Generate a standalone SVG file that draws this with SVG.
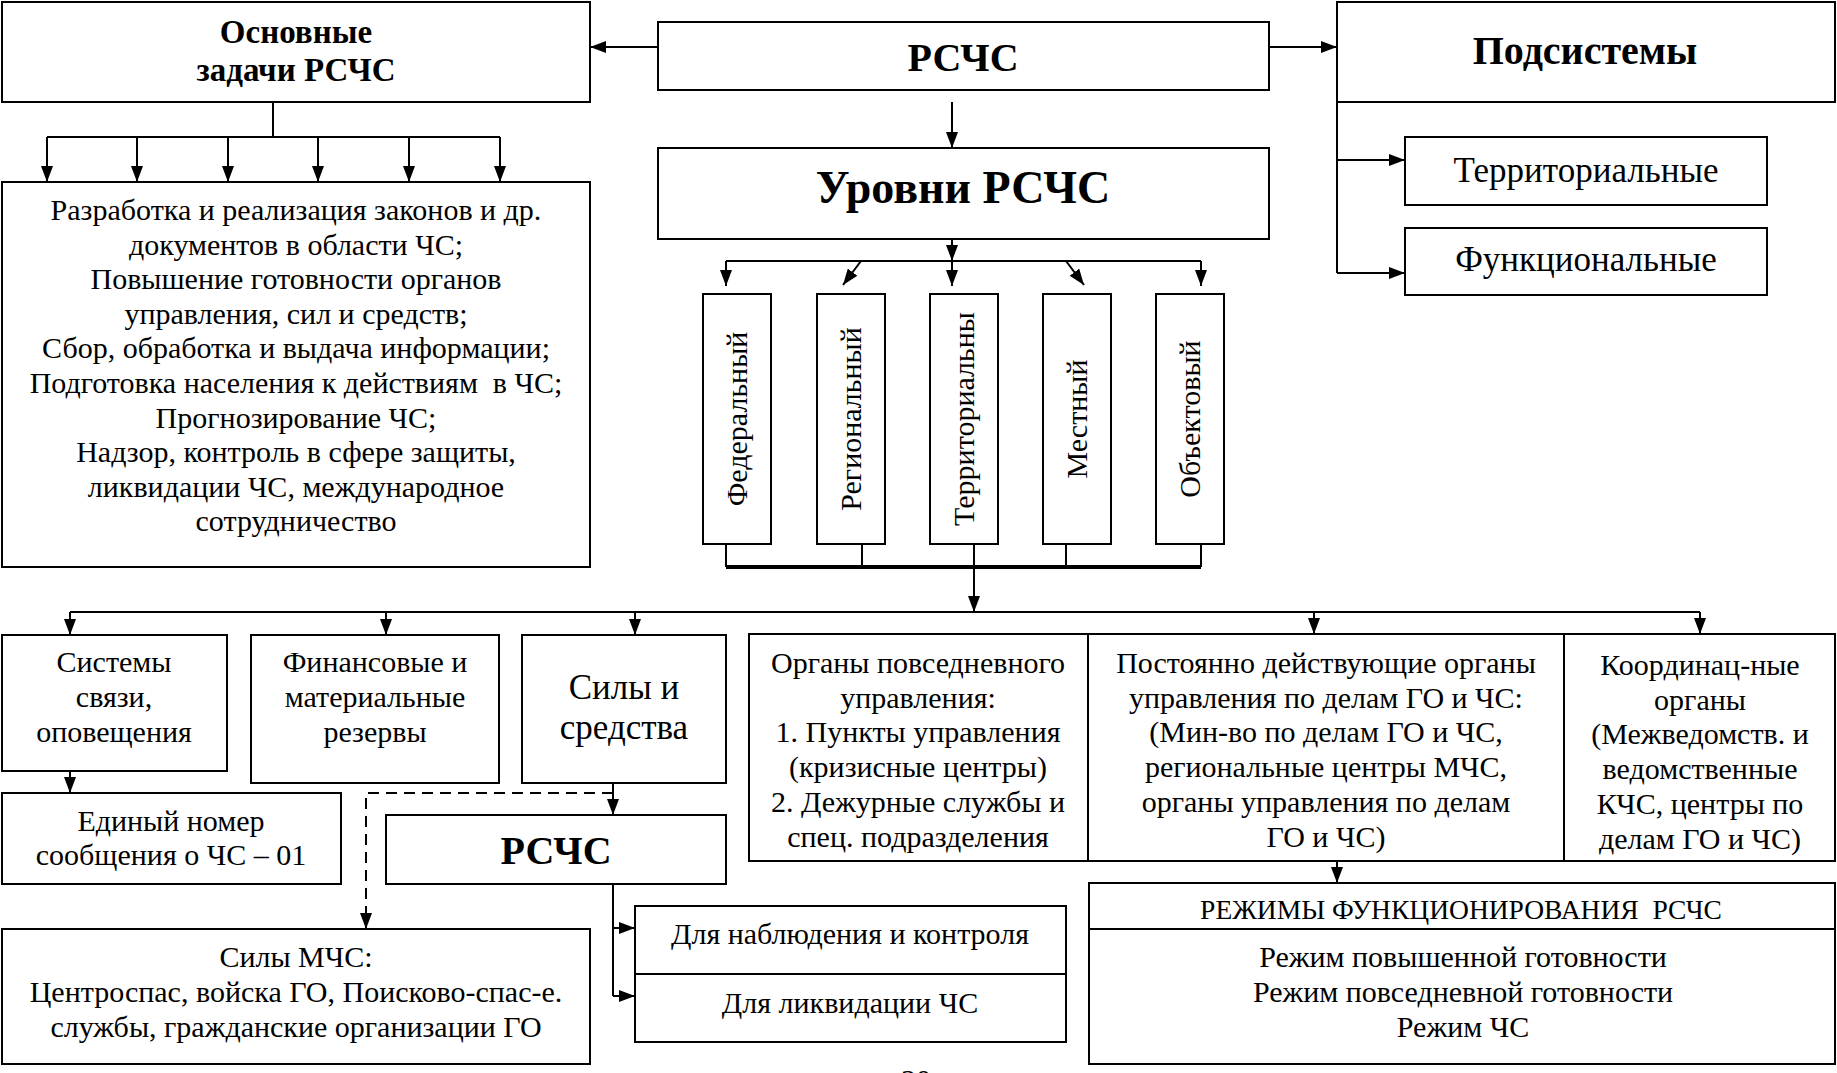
<svg xmlns="http://www.w3.org/2000/svg" width="1837" height="1073" viewBox="0 0 1837 1073">
<style>
.box{fill:#fff;stroke:#000;stroke-width:2}
.ln{fill:none;stroke:#000;stroke-width:2}
.ar{fill:none;stroke:#000;stroke-width:2;marker-end:url(#ah)}
.t{font-family:"Liberation Serif","Times New Roman",serif;font-size:30px;text-anchor:middle;fill:#000}
.b{font-weight:bold}
.s33{font-size:33px}
.s35{font-size:35px}
.s40{font-size:40px}
.s46{font-size:46px}
.s27{font-size:27.5px}
</style>
<defs>
<marker id="ah" viewBox="0 0 16 12" refX="16" refY="6" markerWidth="16" markerHeight="12" markerUnits="userSpaceOnUse" orient="auto">
<path d="M0,0 L16,6 L0,12 Z" fill="#000"/>
</marker>
</defs>
<rect width="1837" height="1073" fill="#fff"/>

<g id="connectors">
<path class="ar" d="M658,47 H590"/>
<path class="ar" d="M1269,47 H1337"/>
<path class="ar" d="M952,102 V148"/>
<path class="ln" d="M273,102 V137 M47,137 H500"/>
<path class="ar" d="M47,137 V182"/>
<path class="ar" d="M137,137 V182"/>
<path class="ar" d="M228,137 V182"/>
<path class="ar" d="M318,137 V182"/>
<path class="ar" d="M409,137 V182"/>
<path class="ar" d="M500,137 V182"/>
<path class="ln" d="M1337,102 V273"/>
<path class="ar" d="M1337,160 H1405"/>
<path class="ar" d="M1337,273 H1405"/>
<path class="ar" d="M952,239 V261"/>
<path class="ln" d="M726,261 H1201"/>
<path class="ar" d="M726,261 V286"/>
<path class="ar" d="M861,261 L843,285"/>
<path class="ar" d="M952,261 V286"/>
<path class="ar" d="M1066,261 L1084,285"/>
<path class="ar" d="M1201,261 V286"/>
<path class="ln" d="M726,544 V567 M862,544 V567 M1066,544 V567 M1201,544 V567"/>
<path d="M726,567 H1201" fill="none" stroke="#000" stroke-width="4"/>
<path class="ar" d="M974,544 V612"/>
<path class="ln" d="M70,612 H1700"/>
<path class="ar" d="M70,612 V635"/>
<path class="ar" d="M386,612 V635"/>
<path class="ar" d="M635,612 V635"/>
<path class="ar" d="M1314,612 V634"/>
<path class="ar" d="M1700,612 V634"/>
<path class="ar" d="M70,771 V793"/>
<path class="ar" d="M613,783 V815"/>
<path d="M613,793 H366 V929" fill="none" stroke="#000" stroke-width="2" stroke-dasharray="11,7" marker-end="url(#ah)"/>
<path class="ln" d="M613,884 V996"/>
<path class="ar" d="M613,928 H635"/>
<path class="ar" d="M613,996 H635"/>
<path class="ar" d="M1337,861 V883"/>
</g>

<g id="tasks-title">
<rect class="box" x="2" y="2" width="588" height="100"/>
<text class="t b s33" x="296" y="43">Основные</text>
<text class="t b s33" x="296" y="81">задачи РСЧС</text>
</g>
<g id="rschs-top">
<rect class="box" x="658" y="22" width="611" height="68"/>
<text class="t b s40" x="963" y="71">РСЧС</text>
</g>
<g id="subsystems">
<rect class="box" x="1337" y="2" width="498" height="100"/>
<text class="t b s40" x="1585" y="64">Подсистемы</text>
</g>
<g id="territorial">
<rect class="box" x="1405" y="137" width="362" height="68"/>
<text class="t s35" x="1586" y="182">Территориальные</text>
</g>
<g id="functional">
<rect class="box" x="1405" y="228" width="362" height="67"/>
<text class="t s35" x="1586" y="271">Функциональные</text>
</g>
<g id="tasks">
<rect class="box" x="2" y="182" width="588" height="385"/>
<text class="t" x="296" y="220">Разработка и реализация законов и др.</text>
<text class="t" x="296" y="254.6">документов в области ЧС;</text>
<text class="t" x="296" y="289.2">Повышение готовности органов</text>
<text class="t" x="296" y="323.8">управления, сил и средств;</text>
<text class="t" x="296" y="358.4">Сбор, обработка и выдача информации;</text>
<text class="t" x="296" y="393">Подготовка населения к действиям&#160; в ЧС;</text>
<text class="t" x="296" y="427.6">Прогнозирование ЧС;</text>
<text class="t" x="296" y="462.2">Надзор, контроль в сфере защиты,</text>
<text class="t" x="296" y="496.8">ликвидации ЧС, международное</text>
<text class="t" x="296" y="531.4">сотрудничество</text>
</g>
<g id="levels">
<rect class="box" x="658" y="148" width="611" height="91"/>
<text class="t b s46" x="963" y="203">Уровни РСЧС</text>
</g>
<g id="lvl-federal">
<rect class="box" x="703" y="294" width="68" height="250"/>
<text class="t" transform="translate(747,419) rotate(-90)">Федеральный</text>
</g>
<g id="lvl-regional">
<rect class="box" x="817" y="294" width="68" height="250"/>
<text class="t" transform="translate(861,419) rotate(-90)">Региональный</text>
</g>
<g id="lvl-territorial">
<rect class="box" x="930" y="294" width="68" height="250"/>
<text class="t" transform="translate(974,419) rotate(-90)">Территориальны</text>
</g>
<g id="lvl-local">
<rect class="box" x="1043" y="294" width="68" height="250"/>
<text class="t" transform="translate(1087,419) rotate(-90)">Местный</text>
</g>
<g id="lvl-object">
<rect class="box" x="1156" y="294" width="68" height="250"/>
<text class="t" transform="translate(1200,419) rotate(-90)">Объектовый</text>
</g>
<g id="comm">
<rect class="box" x="2" y="635" width="225" height="136"/>
<text class="t" x="114" y="672">Системы</text>
<text class="t" x="114" y="707">связи,</text>
<text class="t" x="114" y="742">оповещения</text>
</g>
<g id="reserves">
<rect class="box" x="251" y="635" width="248" height="148"/>
<text class="t" x="375" y="672">Финансовые и</text>
<text class="t" x="375" y="707">материальные</text>
<text class="t" x="375" y="742">резервы</text>
</g>
<g id="forces">
<rect class="box" x="522" y="635" width="204" height="148"/>
<text class="t s35" x="624" y="699">Силы и</text>
<text class="t s35" x="624" y="739">средства</text>
</g>
<g id="number">
<rect class="box" x="2" y="793" width="339" height="91"/>
<text class="t" x="171" y="831">Единый номер</text>
<text class="t" x="171" y="865">сообщения о ЧС – 01</text>
</g>
<g id="rschs-low">
<rect class="box" x="386" y="815" width="340" height="69"/>
<text class="t b s40" x="556" y="864">РСЧС</text>
</g>
<g id="daily-organs">
<rect class="box" x="749" y="634" width="339" height="227"/>
<text class="t" x="918" y="673">Органы повседневного</text>
<text class="t" x="918" y="707.7">управления:</text>
<text class="t" x="918" y="742.4">1. Пункты управления</text>
<text class="t" x="918" y="777.1">(кризисные центры)</text>
<text class="t" x="918" y="811.8">2. Дежурные службы и</text>
<text class="t" x="918" y="846.5">спец. подразделения</text>
</g>
<g id="permanent-organs">
<rect class="box" x="1088" y="634" width="476" height="227"/>
<text class="t" x="1326" y="673">Постоянно действующие органы</text>
<text class="t" x="1326" y="707.7">управления по делам ГО и ЧС:</text>
<text class="t" x="1326" y="742.4">(Мин-во по делам ГО и ЧС,</text>
<text class="t" x="1326" y="777.1">региональные центры МЧС,</text>
<text class="t" x="1326" y="811.8">органы управления по делам</text>
<text class="t" x="1326" y="846.5">ГО и ЧС)</text>
</g>
<g id="coord-organs">
<rect class="box" x="1564" y="634" width="271" height="227"/>
<text class="t" x="1700" y="675">Координац-ные</text>
<text class="t" x="1700" y="709.7">органы</text>
<text class="t" x="1700" y="744.4">(Межведомств. и</text>
<text class="t" x="1700" y="779.1">ведомственные</text>
<text class="t" x="1700" y="813.8">КЧС, центры по</text>
<text class="t" x="1700" y="848.5">делам ГО и ЧС)</text>
</g>
<g id="observe">
<rect class="box" x="635" y="906" width="431" height="68"/>
<text class="t" x="850" y="944">Для наблюдения и контроля</text>
</g>
<g id="liquidate">
<rect class="box" x="635" y="974" width="431" height="68"/>
<text class="t" x="850" y="1013">Для ликвидации ЧС</text>
</g>
<g id="modes">
<rect class="box" x="1089" y="883" width="746" height="46"/>
<text class="t s27" x="1461" y="919">РЕЖИМЫ ФУНКЦИОНИРОВАНИЯ&#160; РСЧС</text>
<rect class="box" x="1089" y="929" width="746" height="135"/>
<text class="t" x="1463" y="967">Режим повышенной готовности</text>
<text class="t" x="1463" y="1002">Режим повседневной готовности</text>
<text class="t" x="1463" y="1037">Режим ЧС</text>
</g>
<g id="mchs-forces">
<rect class="box" x="2" y="929" width="588" height="135"/>
<text class="t" x="296" y="967">Силы МЧС:</text>
<text class="t" x="296" y="1002">Центроспас, войска ГО, Поисково-спас-е.</text>
<text class="t" x="296" y="1037">службы, гражданские организации ГО</text>
</g>
<text class="t" x="916" y="1090">20</text>
</svg>
